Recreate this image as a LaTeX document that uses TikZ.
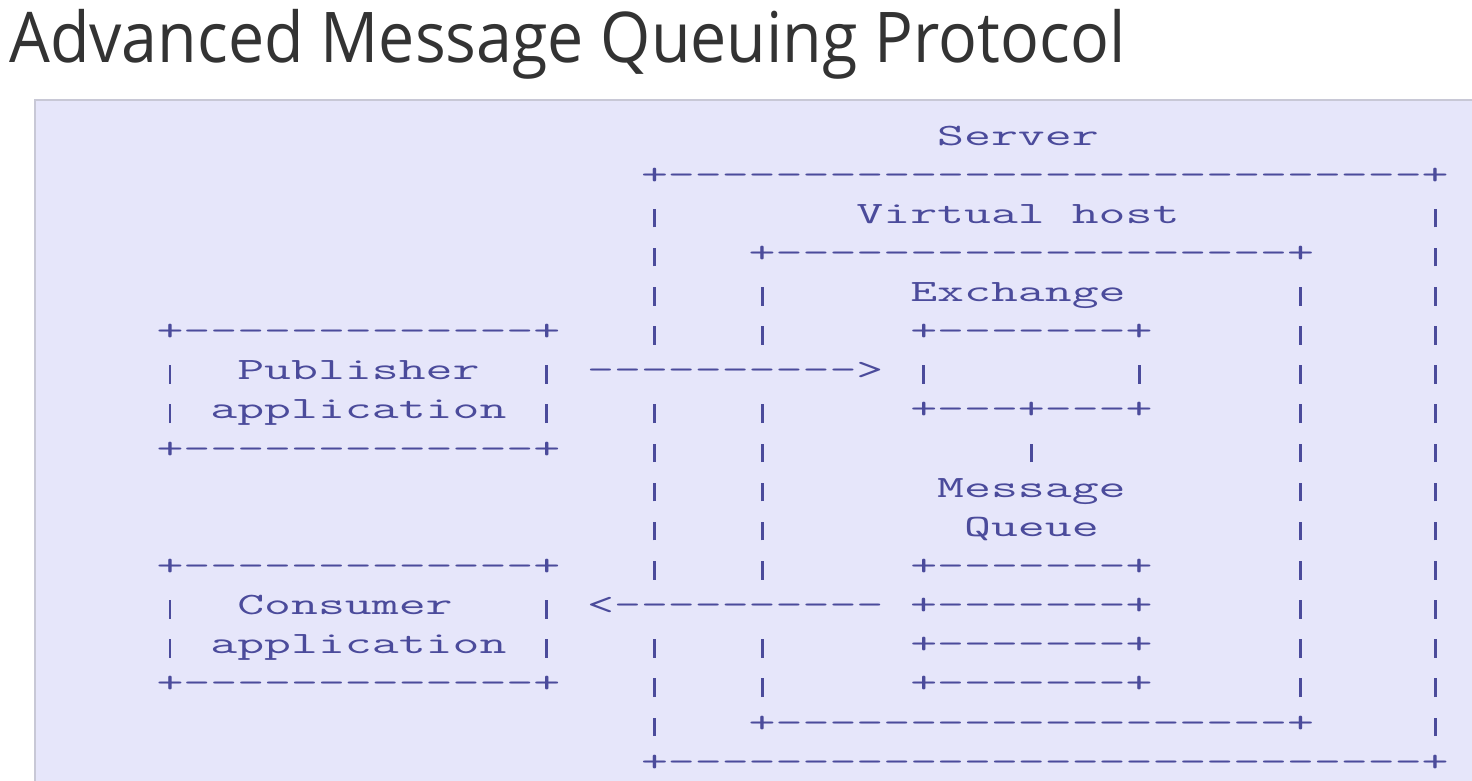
\documentclass[tikz,border=0pt]{standalone}
\usepackage{fontspec}
\newfontfamily\titlefont{Open Sans}
\definecolor{lav}{RGB}{230,230,250}
\definecolor{lavborder}{RGB}{200,200,214}
\definecolor{ascii}{RGB}{75,75,155}
\definecolor{titlegray}{RGB}{51,51,51}
\ExplSyntaxOn
\NewDocumentCommand\rep{mm}{\prg_replicate:nn{#1}{#2}}
\ExplSyntaxOff
\newlength\cw
\setlength\cw{16pt}
\newcommand\SP[1]{\hspace*{#1\cw}}
\newcommand\D[1]{\rep{#1}{\kern0pt-}}
\newcommand\vb{\makebox[\cw]{\rule[-0.13em]{0.055em}{0.6em}}}
\tikzset{
  asc/.style={anchor=base west, inner sep=0pt, outer sep=0pt, text=ascii,
              font=\ttfamily\fontsize{31}{35}\selectfont},
  titlestyle/.style={anchor=base west, inner sep=0pt, text=titlegray,
              font=\titlefont\fontsize{70}{84}\selectfont}
}
\newcommand\arow[3]{\node[asc] (#1) at (156.5,{145+39.14*#2})
  {\settowidth{\cw}{M}\pgfmathsetmacro\xs{26.92/\cw}\scalebox{\xs}[1]{#3}};}
\begin{document}
\begin{tikzpicture}[x=1pt,y=-1pt]
\useasboundingbox (0,0) rectangle (1472,780);
% background panel
\fill[lav] (35,100) rectangle (1480,790);
\draw[lavborder, line width=2.5pt] (35,790) -- (35,100) -- (1480,100);
% title
\node[titlestyle] (title) at (9,62) {\resizebox{1116pt}{\height}{Advanced Message Queuing Protocol}};
% ASCII art rows
\arow{r0}{0}{\SP{29}Server}
\arow{r1}{1}{\SP{18}+\D{28}+}
\arow{r2}{2}{\SP{18}\vb\SP{7}Virtual\SP{1}host\SP{9}\vb}
\arow{r3}{3}{\SP{18}\vb\SP{3}+\D{19}+\SP{4}\vb}
\arow{r4}{4}{\SP{18}\vb\SP{3}\vb\SP{5}Exchange\SP{6}\vb\SP{4}\vb}
\arow{r5}{5}{+\D{13}+\SP{3}\vb\SP{3}\vb\SP{5}+\D{7}+\SP{5}\vb\SP{4}\vb}
\arow{r6}{6}{\vb\SP{2}Publisher\SP{2}\vb\SP{1}\D{10}>\SP{1}\vb\SP{7}\vb\SP{5}\vb\SP{4}\vb}
\arow{r7}{7}{\vb\SP{1}application\SP{1}\vb\SP{3}\vb\SP{3}\vb\SP{5}+\D{3}+\D{3}+\SP{5}\vb\SP{4}\vb}
\arow{r8}{8}{+\D{13}+\SP{3}\vb\SP{3}\vb\SP{9}\vb\SP{9}\vb\SP{4}\vb}
\arow{r9}{9}{\SP{18}\vb\SP{3}\vb\SP{6}Message\SP{6}\vb\SP{4}\vb}
\arow{r10}{10}{\SP{18}\vb\SP{3}\vb\SP{7}Queue\SP{7}\vb\SP{4}\vb}
\arow{r11}{11}{+\D{13}+\SP{3}\vb\SP{3}\vb\SP{5}+\D{7}+\SP{5}\vb\SP{4}\vb}
\arow{r12}{12}{\vb\SP{2}Consumer\SP{3}\vb\SP{1}<\D{10}\SP{1}+\D{7}+\SP{5}\vb\SP{4}\vb}
\arow{r13}{13}{\vb\SP{1}application\SP{1}\vb\SP{3}\vb\SP{3}\vb\SP{5}+\D{7}+\SP{5}\vb\SP{4}\vb}
\arow{r14}{14}{+\D{13}+\SP{3}\vb\SP{3}\vb\SP{5}+\D{7}+\SP{5}\vb\SP{4}\vb}
\arow{r15}{15}{\SP{18}\vb\SP{3}+\D{19}+\SP{4}\vb}
\arow{r16}{16}{\SP{18}+\D{28}+}
\end{tikzpicture}
\end{document}
